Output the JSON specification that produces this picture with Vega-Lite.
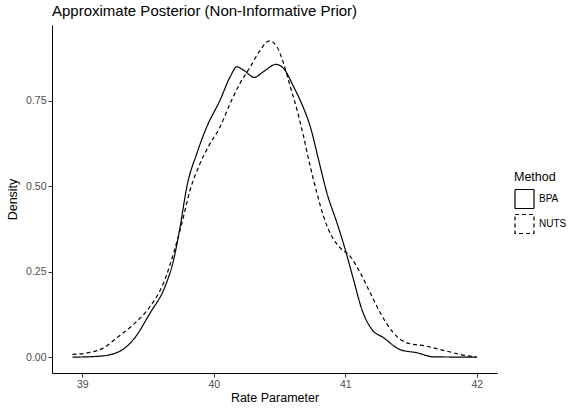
{
  "$schema": "https://vega.github.io/schema/vega-lite/v6.json",
  "width": 445,
  "height": 348,
  "autosize": {"type": "none"},
  "padding": {"left": 52, "top": 25, "right": 72, "bottom": 36},
  "title": {"text": "Approximate Posterior (Non-Informative Prior)", "anchor": "start", "frame": "group", "font": "Liberation Sans", "fontSize": 15, "fontWeight": "normal", "color": "#000000", "offset": 6},
  "config": {
    "view": {"stroke": null},
    "font": "Liberation Sans",
    "axis": {"grid": false, "domainColor": "#000000", "domainWidth": 1, "tickColor": "#333333", "tickSize": 4, "labelColor": "#4d4d4d", "labelFontSize": 10.5, "labelFont": "Liberation Sans", "titleFont": "Liberation Sans", "titleFontSize": 12.5, "titleFontWeight": "normal", "titleColor": "#000000"}
  },
  "data": {"values": [
    {"Method": "BPA", "x": 38.926, "y": 0.0},
    {"Method": "BPA", "x": 39.137, "y": 0.003},
    {"Method": "BPA", "x": 39.289, "y": 0.018},
    {"Method": "BPA", "x": 39.39, "y": 0.052},
    {"Method": "BPA", "x": 39.517, "y": 0.13},
    {"Method": "BPA", "x": 39.63, "y": 0.207},
    {"Method": "BPA", "x": 39.695, "y": 0.285},
    {"Method": "BPA", "x": 39.745, "y": 0.383},
    {"Method": "BPA", "x": 39.796, "y": 0.5},
    {"Method": "BPA", "x": 39.872, "y": 0.597},
    {"Method": "BPA", "x": 39.948, "y": 0.675},
    {"Method": "BPA", "x": 40.049, "y": 0.753},
    {"Method": "BPA", "x": 40.125, "y": 0.821},
    {"Method": "BPA", "x": 40.176, "y": 0.85},
    {"Method": "BPA", "x": 40.227, "y": 0.84},
    {"Method": "BPA", "x": 40.308, "y": 0.819},
    {"Method": "BPA", "x": 40.379, "y": 0.836},
    {"Method": "BPA", "x": 40.473, "y": 0.857},
    {"Method": "BPA", "x": 40.531, "y": 0.845},
    {"Method": "BPA", "x": 40.607, "y": 0.792},
    {"Method": "BPA", "x": 40.683, "y": 0.729},
    {"Method": "BPA", "x": 40.734, "y": 0.675},
    {"Method": "BPA", "x": 40.797, "y": 0.578},
    {"Method": "BPA", "x": 40.861, "y": 0.48},
    {"Method": "BPA", "x": 40.937, "y": 0.393},
    {"Method": "BPA", "x": 41.0, "y": 0.315},
    {"Method": "BPA", "x": 41.063, "y": 0.227},
    {"Method": "BPA", "x": 41.127, "y": 0.139},
    {"Method": "BPA", "x": 41.203, "y": 0.081},
    {"Method": "BPA", "x": 41.291, "y": 0.057},
    {"Method": "BPA", "x": 41.418, "y": 0.022},
    {"Method": "BPA", "x": 41.545, "y": 0.013},
    {"Method": "BPA", "x": 41.671, "y": 0.001},
    {"Method": "BPA", "x": 42.0, "y": 0.0},
    {"Method": "NUTS", "x": 38.926, "y": 0.008},
    {"Method": "NUTS", "x": 39.086, "y": 0.016},
    {"Method": "NUTS", "x": 39.162, "y": 0.027},
    {"Method": "NUTS", "x": 39.264, "y": 0.057},
    {"Method": "NUTS", "x": 39.39, "y": 0.096},
    {"Method": "NUTS", "x": 39.517, "y": 0.149},
    {"Method": "NUTS", "x": 39.618, "y": 0.217},
    {"Method": "NUTS", "x": 39.695, "y": 0.305},
    {"Method": "NUTS", "x": 39.758, "y": 0.393},
    {"Method": "NUTS", "x": 39.821, "y": 0.49},
    {"Method": "NUTS", "x": 39.897, "y": 0.568},
    {"Method": "NUTS", "x": 39.96, "y": 0.617},
    {"Method": "NUTS", "x": 40.049, "y": 0.675},
    {"Method": "NUTS", "x": 40.125, "y": 0.743},
    {"Method": "NUTS", "x": 40.2, "y": 0.802},
    {"Method": "NUTS", "x": 40.278, "y": 0.85},
    {"Method": "NUTS", "x": 40.354, "y": 0.899},
    {"Method": "NUTS", "x": 40.424, "y": 0.926},
    {"Method": "NUTS", "x": 40.48, "y": 0.909},
    {"Method": "NUTS", "x": 40.531, "y": 0.86},
    {"Method": "NUTS", "x": 40.582, "y": 0.792},
    {"Method": "NUTS", "x": 40.633, "y": 0.724},
    {"Method": "NUTS", "x": 40.683, "y": 0.646},
    {"Method": "NUTS", "x": 40.734, "y": 0.558},
    {"Method": "NUTS", "x": 40.785, "y": 0.48},
    {"Method": "NUTS", "x": 40.835, "y": 0.412},
    {"Method": "NUTS", "x": 40.899, "y": 0.353},
    {"Method": "NUTS", "x": 40.962, "y": 0.32},
    {"Method": "NUTS", "x": 41.038, "y": 0.295},
    {"Method": "NUTS", "x": 41.114, "y": 0.247},
    {"Method": "NUTS", "x": 41.19, "y": 0.188},
    {"Method": "NUTS", "x": 41.266, "y": 0.13},
    {"Method": "NUTS", "x": 41.367, "y": 0.071},
    {"Method": "NUTS", "x": 41.469, "y": 0.042},
    {"Method": "NUTS", "x": 41.621, "y": 0.032},
    {"Method": "NUTS", "x": 41.748, "y": 0.02},
    {"Method": "NUTS", "x": 41.875, "y": 0.008},
    {"Method": "NUTS", "x": 42.0, "y": 0.0}
  ]},
  "mark": {"type": "line", "color": "#000000", "strokeWidth": 1.2, "interpolate": "monotone"},
  "encoding": {
    "x": {"field": "x", "type": "quantitative", "title": "Rate Parameter", "scale": {"domain": [38.77, 42.154], "nice": false, "zero": false}, "axis": {"values": [39, 40, 41, 42], "format": "d", "labelPadding": 2, "titlePadding": 2}},
    "y": {"field": "y", "type": "quantitative", "title": "Density", "scale": {"domain": [-0.0463, 0.9723], "nice": false, "zero": false}, "axis": {"values": [0, 0.25, 0.5, 0.75], "format": ".2f", "labelPadding": 2, "titlePadding": 6}},
    "strokeDash": {"field": "Method", "type": "nominal", "scale": {"domain": ["BPA", "NUTS"], "range": [[1, 0], [4, 3]]},
      "legend": {"title": "Method", "orient": "none", "legendX": 462, "legendY": 146, "symbolType": "square", "symbolSize": 361, "symbolFillColor": "#ffffff", "symbolStrokeColor": "#000000", "symbolStrokeWidth": 1.2, "rowPadding": 0, "titleFontSize": 12.5, "titleFontWeight": "normal", "titleColor": "#000000", "labelFontSize": 10, "labelColor": "#000000", "labelOffset": 4, "titlePadding": 5}}
  }
}
